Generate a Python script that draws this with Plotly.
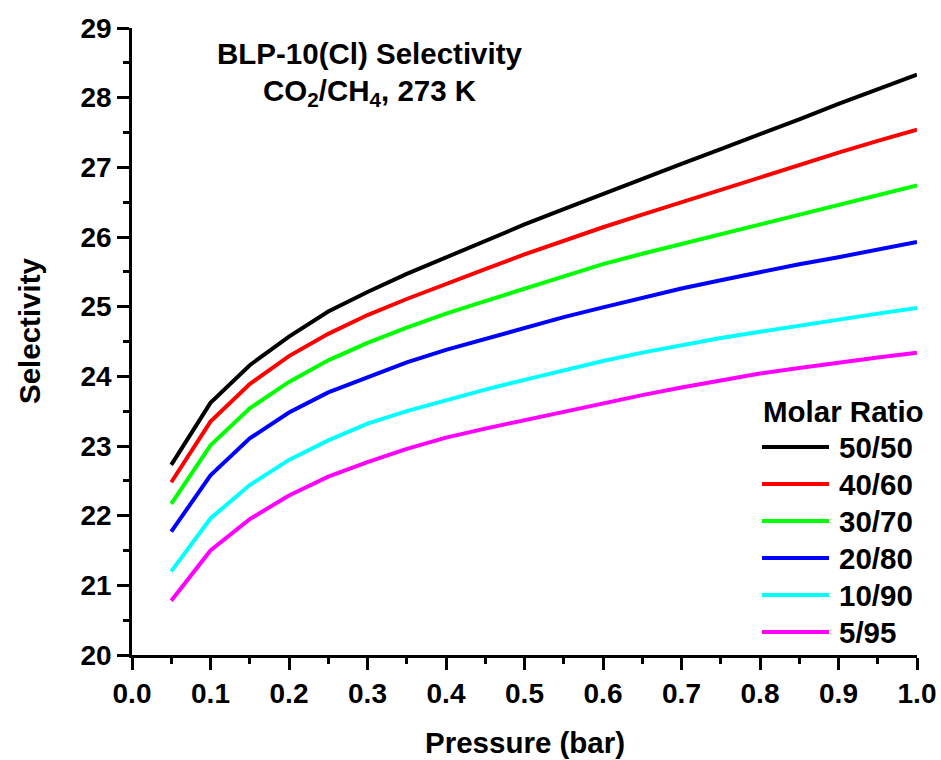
import plotly.graph_objects as go

# Pressure grid (bar)
pressure = [0.05, 0.10, 0.15, 0.20, 0.25, 0.30, 0.35, 0.40, 0.45, 0.50,
            0.55, 0.60, 0.65, 0.70, 0.75, 0.80, 0.85, 0.90, 0.95, 1.00]

# IAST selectivity for each CO2/CH4 molar ratio
sel_50_50 = [22.73, 23.62, 24.16, 24.57, 24.93, 25.21, 25.47, 25.71, 25.95, 26.18,
             26.40, 26.62, 26.84, 27.05, 27.26, 27.47, 27.69, 27.91, 28.12, 28.33]
sel_40_60 = [22.48, 23.35, 23.89, 24.29, 24.61, 24.88, 25.11, 25.33, 25.54, 25.75,
             25.95, 26.14, 26.32, 26.50, 26.68, 26.86, 27.03, 27.21, 27.38, 27.54]
sel_30_70 = [22.17, 23.01, 23.54, 23.92, 24.23, 24.48, 24.70, 24.90, 25.08, 25.26,
             25.44, 25.61, 25.76, 25.90, 26.05, 26.19, 26.33, 26.47, 26.61, 26.74]
sel_20_80 = [21.77, 22.58, 23.11, 23.48, 23.77, 23.99, 24.20, 24.38, 24.54, 24.69,
             24.85, 24.99, 25.13, 25.26, 25.38, 25.50, 25.61, 25.71, 25.82, 25.93]
sel_10_90 = [21.20, 21.96, 22.44, 22.80, 23.08, 23.32, 23.50, 23.66, 23.81, 23.95,
             24.09, 24.22, 24.34, 24.45, 24.55, 24.64, 24.73, 24.82, 24.90, 24.98]
sel_5_95 = [20.78, 21.50, 21.95, 22.29, 22.56, 22.77, 22.96, 23.12, 23.25, 23.37,
            23.50, 23.62, 23.73, 23.84, 23.94, 24.04, 24.12, 24.20, 24.27, 24.34]

ratio_labels = ["50/50", "40/60", "30/70", "20/80", "10/90", "5/95"]
series = [sel_50_50, sel_40_60, sel_30_70, sel_20_80, sel_10_90, sel_5_95]
colors = ["#000000", "#ff0000", "#00ff00", "#0000ff", "#00ffff", "#ff00ff"]

x_ticks = [round(0.1 * i, 1) for i in range(11)]
x_tick_text = [f"{v:.1f}" for v in x_ticks]
y_ticks = list(range(20, 30))

FONT = "Liberation Sans"
TEXT_SIZE = 29.5
TICK_SIZE = 28
W, H = 941, 760
L, R, T, B = 132, 24, 28, 105
PW, PH = W - L - R, H - T - B


def px_to_paper(px, py):
    return (px - L) / PW, (H - B - py) / PH


def bold(size):
    return dict(family=FONT, size=size, color="black", weight="bold")


fig = go.Figure()
for label, ys, col in zip(ratio_labels, series, colors):
    fig.add_trace(go.Scatter(
        x=pressure, y=ys, mode="lines", name=label,
        line=dict(color=col, width=4), showlegend=False,
    ))

# Hand-built legend with long line samples
shapes = []
annotations = []
lx0, lx1, tx = 762, 829, 837
title_y = 411
row_y = [447, 484, 521, 558, 595, 632]
ax_, ay_ = px_to_paper(761, title_y)
annotations.append(dict(
    x=ax_, y=ay_, xref="paper", yref="paper", text="Molar Ratio",
    showarrow=False, xanchor="left", yanchor="middle", font=bold(TEXT_SIZE),
))
for label, col, yy in zip(ratio_labels, colors, row_y):
    x0p, yp = px_to_paper(lx0, yy)
    x1p, _ = px_to_paper(lx1, yy)
    shapes.append(dict(type="line", xref="paper", yref="paper",
                       x0=x0p, x1=x1p, y0=yp, y1=yp,
                       line=dict(color=col, width=4)))
    txp, _ = px_to_paper(tx, yy)
    annotations.append(dict(
        x=txp, y=yp, xref="paper", yref="paper", text=label,
        showarrow=False, xanchor="left", yanchor="middle", font=bold(TEXT_SIZE),
    ))

# Chart heading inside the plot area
hx, hy1 = px_to_paper(370, 54)
_, hy2 = px_to_paper(370, 92)
annotations.append(dict(
    x=hx, y=hy1, xref="paper", yref="paper", text="BLP-10(Cl) Selectivity",
    showarrow=False, xanchor="center", yanchor="middle", font=bold(TEXT_SIZE),
))
annotations.append(dict(
    x=hx, y=hy2, xref="paper", yref="paper",
    text="CO<sub>2</sub>/CH<sub>4</sub>, 273 K",
    showarrow=False, xanchor="center", yanchor="middle", font=bold(TEXT_SIZE),
))

# Axis titles
xtx, xty = px_to_paper(525, 742)
annotations.append(dict(
    x=xtx, y=xty, xref="paper", yref="paper", text="Pressure (bar)",
    showarrow=False, xanchor="center", yanchor="middle", font=bold(TEXT_SIZE),
))
ytx, yty = px_to_paper(29, 331)
annotations.append(dict(
    x=ytx, y=yty, xref="paper", yref="paper", text="Selectivity",
    showarrow=False, xanchor="center", yanchor="middle", textangle=-90,
    font=bold(TEXT_SIZE),
))

axis_common = dict(
    showgrid=False, zeroline=False, showline=True, linecolor="black", linewidth=2.5,
    ticks="outside", ticklen=12, tickwidth=2.5, tickcolor="black",
    tickfont=bold(TICK_SIZE), mirror=False, automargin=False,
)

fig.update_layout(
    width=W, height=H,
    margin=dict(l=L, r=R, t=T, b=B, pad=0),
    paper_bgcolor="white", plot_bgcolor="white",
    xaxis=dict(range=[0, 1.0], tickvals=x_ticks, ticktext=x_tick_text,
               minor=dict(ticks="outside", ticklen=6, tickwidth=2.5,
                          tickcolor="black", dtick=0.05, tick0=0),
               **axis_common),
    yaxis=dict(range=[20, 29], tickvals=y_ticks,
               minor=dict(ticks="outside", ticklen=6, tickwidth=2.5,
                          tickcolor="black", dtick=0.5, tick0=20),
               **axis_common),
    shapes=shapes,
    annotations=annotations,
    showlegend=False,
)

fig.write_html("out.html")
